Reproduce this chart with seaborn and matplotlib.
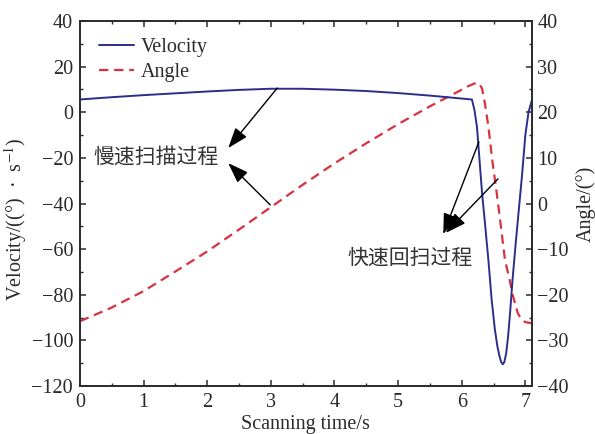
import numpy as np
import pandas as pd
import matplotlib
matplotlib.use("Agg")
import matplotlib.pyplot as plt
import seaborn as sns
from matplotlib.ticker import MultipleLocator

# ---------------- data ----------------
t_vel = [0.0, 0.5, 1.0, 1.5, 2.0, 2.5, 3.0, 3.5, 4.0, 4.5, 5.0, 5.5, 6.0, 6.16,
         6.2, 6.24, 6.28, 6.32, 6.37, 6.42, 6.47, 6.52, 6.56, 6.59, 6.62, 6.645, 6.67,
         6.70, 6.73, 6.76, 6.80, 6.85, 6.90, 6.95, 7.00, 7.05, 7.12]
vel = [5.6, 6.6, 7.5, 8.3, 9.1, 9.8, 10.3, 10.3, 9.9, 9.3, 8.4, 7.3, 6.0, 5.6,
       1.0, -6.5, -21.0, -35.5, -50.0, -65.0, -82.0, -95.0, -102.5, -106.5, -109.5, -110.5, -109.5,
       -105.5, -98.0, -88.0, -73.0, -57.0, -42.0, -27.0, -10.0, 0.0, 7.0]

t_ang = [0.0, 0.5, 1.0, 1.5, 2.0, 2.5, 3.0, 3.5, 4.0, 4.5, 5.0, 5.5, 5.9, 6.1,
         6.2, 6.27, 6.32, 6.37, 6.42, 6.48, 6.55, 6.62, 6.68, 6.75, 6.80, 6.84,
         6.88, 6.94, 7.0, 7.12]
ang = [-25.8, -22.8, -19.2, -14.9, -10.5, -5.7, -0.8, 4.1, 8.8, 13.2, 17.4, 21.3, 24.2, 25.7,
       26.3, 26.4, 25.2, 21.5, 16.8, 9.5, 2.3, -5.5, -12.4, -16.5, -20.0, -22.0,
       -24.0, -25.5, -26.0, -26.3]

series_labels = ["Velocity", "Angle"]
xlabel = "Scanning time/s"
ylabel_left = r"Velocity/((°)  ·  s$^{-1}$)"
ylabel_right = "Angle/(°)"
note_slow = "慢速扫描过程"
note_fast = "快速回扫过程"

# ---------------- style ----------------
sns.set_style("ticks")
plt.rcParams["font.family"] = ["Liberation Serif", "Noto Sans CJK SC", "DejaVu Sans"]
plt.rcParams["mathtext.fontset"] = "stix"
plt.rcParams["axes.unicode_minus"] = True

FS = 14.5
dark = "#2a2a2a"
c_vel = "#2d2d8c"
c_ang = "#d8323f"

fig = plt.figure(figsize=(5.95, 4.34), dpi=100)
ax = fig.add_axes([80 / 595, 1 - 386 / 434, (531.7 - 80) / 595, (386 - 21) / 434])
ax2 = ax.twinx()

df_v = pd.DataFrame({"t": t_vel, "v": vel})
df_a = pd.DataFrame({"t": t_ang, "a": ang})

sns.lineplot(data=df_v, x="t", y="v", ax=ax, color=c_vel, lw=1.4, sort=False,
             label=series_labels[0], legend=False)
sns.lineplot(data=df_a, x="t", y="a", ax=ax2, color=c_ang, lw=1.6, sort=False,
             linestyle=(0, (4.2, 2.6)), label=series_labels[1], legend=False)

ax.set_xlim(0, 7.10)
ax.set_ylim(-120, 40)
ax2.set_ylim(-40, 40)

ax.xaxis.set_major_locator(MultipleLocator(1))
ax.xaxis.set_minor_locator(MultipleLocator(0.5))
ax.yaxis.set_major_locator(MultipleLocator(20))
ax.yaxis.set_minor_locator(MultipleLocator(10))
ax2.yaxis.set_major_locator(MultipleLocator(10))
ax2.yaxis.set_minor_locator(MultipleLocator(5))

for a in (ax, ax2):
    for s in a.spines.values():
        s.set_visible(True)
        s.set_linewidth(1.2)
        s.set_color(dark)

ax.tick_params(axis="both", which="major", direction="in", length=4.5, width=1.1,
               labelsize=FS, colors=dark, pad=5, top=True, right=False)
ax.tick_params(axis="both", which="minor", direction="in", length=2.5, width=1.0,
               colors=dark, top=True, right=False)
ax.tick_params(axis="x", which="both", top=True, labeltop=False)
ax2.tick_params(axis="y", which="major", direction="in", length=4.5, width=1.1,
                labelsize=FS, colors=dark, pad=4)
ax2.tick_params(axis="y", which="minor", direction="in", length=2.5, width=1.0, colors=dark)

ax.set_xlabel(xlabel, fontsize=FS, color=dark, labelpad=2)
ax.set_ylabel(ylabel_left, fontsize=FS, color=dark)
ax.yaxis.set_label_coords(-0.113, 0.457)
ax2.set_ylabel(ylabel_right, fontsize=FS, color=dark, rotation=90)
ax2.yaxis.set_label_coords(1.097, 0.50)

# legend
handles = ax.get_lines()[:1] + ax2.get_lines()[:1]
leg = ax2.legend(handles, series_labels, loc="upper left", frameon=False,
                 fontsize=FS, handlelength=1.75, handletextpad=0.35,
                 labelspacing=0.3, borderaxespad=0.25, bbox_to_anchor=(0.013, 0.99))
for txt in leg.get_texts():
    txt.set_color(dark)

# annotations (velocity coordinates on ax)
def ang_to_v(a):
    return 2 * a - 40

arrow = dict(arrowstyle="-|>,head_length=0.9,head_width=0.32", color="black",
             lw=1.0, shrinkA=0, shrinkB=0, mutation_scale=14)
cjk = ["Noto Sans CJK SC", "DejaVu Sans"]

ax.text(1.195, -19.6, note_slow, fontsize=15, color="#333333", family=cjk,
        ha="center", va="center", zorder=5)
ax.annotate("", xy=(2.33, -15.7), xytext=(3.10, vel[6] + 0.3), xycoords="data",
            arrowprops=arrow, zorder=6)
ax.annotate("", xy=(2.33, -22.3), xytext=(2.99, ang_to_v(-0.3)), xycoords="data",
            arrowprops=arrow, zorder=6)

ax.text(5.19, -63.9, note_fast, fontsize=15, color="#333333", family=cjk,
        ha="center", va="center", zorder=5)
ax.annotate("", xy=(5.71, -53.4), xytext=(6.27, -13.0), xycoords="data",
            arrowprops=arrow, zorder=6)
ax.annotate("", xy=(5.75, -52.9), xytext=(6.57, ang_to_v(5.4)), xycoords="data",
            arrowprops=arrow, zorder=6)

ax.set_zorder(ax2.get_zorder() + 1)
ax.patch.set_visible(False)

fig.savefig("out.png", dpi=100)
